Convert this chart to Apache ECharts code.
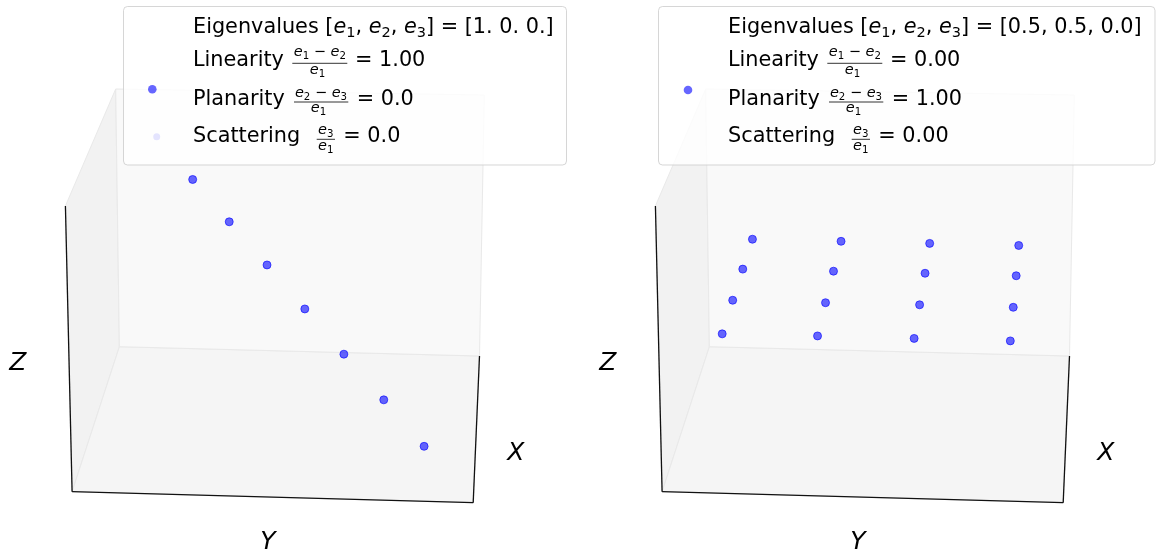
<!DOCTYPE html>
<html><head><meta charset="utf-8">
<script src="https://cdn.jsdelivr.net/npm/echarts@6/dist/echarts.min.js"></script>
<style>html,body{margin:0;padding:0;background:#fff}#c{width:1158px;height:558px}</style>
</head><body><div id="c"></div>
<script>
// ---- data (projected view units, 0–100 across each 3D box) ----
const linearityX = [30.4, 39.1, 48.1, 57.1, 66.4, 75.9, 85.5];
const linearityY = [78.2, 68.0, 57.6, 47.0, 36.1, 25.1, 13.9];
const planarityX = [23.2, 44.3, 65.4, 86.6, 20.9, 42.5, 64.3, 86.0, 18.5, 40.6, 63.0, 85.3, 16.0, 38.7, 61.7, 84.6];
const planarityY = [63.8, 63.3, 62.8, 62.3, 56.6, 56.1, 55.6, 55.0, 49.1, 48.5, 48.0, 47.4, 41.0, 40.5, 39.9, 39.3];
// 3D box panes (projected corners, same view units)
const backPane  = [[12.07, 100], [99.83, 98.55], [98.69, 35.66], [12.95, 37.9]];
const sidePane  = [[0.1, 71.81], [12.07, 100], [12.95, 37.9], [1.69, 2.96]];
const floorPane = [[12.95, 37.9], [98.69, 35.66], [97.19, 0.31], [1.69, 2.96]];
const axisEdges = [[[0.1, 71.81], [1.69, 2.96]], [[1.69, 2.96], [97.19, 0.31]], [[98.69, 35.66], [97.19, 0.31]]];
// legend texts
const eigenLeft = '[1. 0. 0.]';
const eigenRight = '[0.5, 0.5, 0.0]';
const linearityVals = ['1.00', '0.00'];
const planarityVals = ['0.0', '1.00'];
const scatteringVals = ['0.0', '0.00'];
const axisNames = ['X', 'Y', 'Z'];

const FONT = 'DejaVu Sans';
const panes = [sidePane, floorPane, backPane];
const paneColors = ['#f2f2f2', '#f5f5f5', '#f9f9f9'];
const POINT = 'rgba(0,0,255,0.6)';

function paneSeries(gi) {
  return {
    type: 'custom', xAxisIndex: gi, yAxisIndex: gi, silent: true, z: 1,
    data: panes.map((p, i) => [i]),
    renderItem: (params, api) => {
      const idx = api.value(0);
      return { type: 'polygon', shape: { points: panes[idx].map(c => api.coord(c)) },
        style: { fill: paneColors[idx], stroke: '#e9e9e9', lineWidth: 1 } };
    }
  };
}
function edgeSeries(gi) {
  return {
    type: 'custom', xAxisIndex: gi, yAxisIndex: gi, silent: true, z: 2,
    data: axisEdges.map((e, i) => [i]),
    renderItem: (params, api) => {
      const e = axisEdges[api.value(0)];
      const a = api.coord(e[0]), b = api.coord(e[1]);
      return { type: 'line', shape: { x1: a[0], y1: a[1], x2: b[0], y2: b[1] },
        style: { stroke: '#111', lineWidth: 1.3 } };
    }
  };
}
function scatterSeries(gi, xs, ys, name) {
  return {
    type: 'scatter', name, xAxisIndex: gi, yAxisIndex: gi, z: 3, symbolSize: 8,
    itemStyle: { color: POINT, opacity: 1, borderColor: POINT, borderWidth: 1 },
    data: xs.map((x, i) => [x, ys[i]])
  };
}

const rich = {
  n: { fontFamily: FONT, fontSize: 20.8, lineHeight: 26, verticalAlign: 'middle', fill: '#000' },
  i: { fontFamily: FONT, fontStyle: 'italic', fontSize: 20.8, lineHeight: 26, verticalAlign: 'middle', fill: '#000' },
  s: { fontFamily: FONT, fontSize: 14.5, lineHeight: 14, verticalAlign: 'bottom', fill: '#000' },
  fn: { fontFamily: FONT, fontSize: 14.5, lineHeight: 18, verticalAlign: 'middle', fill: '#000' },
  fi: { fontFamily: FONT, fontStyle: 'italic', fontSize: 14.5, lineHeight: 18, verticalAlign: 'middle', fill: '#000' },
  fs: { fontFamily: FONT, fontSize: 10.2, lineHeight: 10, verticalAlign: 'bottom', fill: '#000' }
};
function txt(x, y, text, align) {
  return { type: 'text', x, y, z: 101, silent: true,
    style: { text, rich, align: align || 'left', verticalAlign: 'middle', fill: '#000' } };
}
function bar(x1, x2, y) {
  return { type: 'line', z: 101, silent: true, shape: { x1, y1: y, x2, y2: y }, style: { stroke: '#000', lineWidth: 0.8 } };
}
function fracE(n) { return '{fi|e}{fs|' + n + '}'; }
function legend(dx, boxW, k, markers) {
  const els = [];
  els.push({ type: 'rect', z: 100, silent: true, shape: { x: 123.5 + dx, y: 6.5, width: boxW, height: 158.5, r: 4 },
    style: { fill: 'rgba(255,255,255,0.8)', stroke: 'rgba(204,204,204,0.8)', lineWidth: 1 } });
  const eig = k === 0 ? eigenLeft : eigenRight;
  els.push(txt(193 + dx, 28, '{n|Eigenvalues [}{i|e}{s|1}{n|, }{i|e}{s|2}{n|, }{i|e}{s|3}{n|] = ' + eig + '}'));
  // Linearity
  els.push(txt(193 + dx, 60.5, '{n|Linearity}'));
  els.push(txt(319.8 + dx, 52.7, fracE(1) + '{fn| − }' + fracE(2), 'center'));
  els.push(bar(292.3 + dx, 347.3 + dx, 63.3));
  els.push(txt(317.5 + dx, 70, fracE(1), 'center'));
  els.push(txt(355 + dx, 60.5, '{n|= ' + linearityVals[k] + '}'));
  // Planarity
  els.push(txt(193 + dx, 99.3, '{n|Planarity}'));
  els.push(txt(321 + dx, 93.3, fracE(2) + '{fn| − }' + fracE(3), 'center'));
  els.push(bar(294 + dx, 348.3 + dx, 102));
  els.push(txt(318.5 + dx, 108.5, fracE(1), 'center'));
  els.push(txt(356.7 + dx, 99.3, '{n|= ' + planarityVals[k] + '}'));
  // Scattering
  els.push(txt(193 + dx, 136.6, '{n|Scattering}'));
  els.push(txt(325.8 + dx, 130, fracE(3), 'center'));
  els.push(bar(316.7 + dx, 335 + dx, 139.3));
  els.push(txt(325.8 + dx, 146.7, fracE(1), 'center'));
  els.push(txt(343.3 + dx, 136.6, '{n|= ' + scatteringVals[k] + '}'));
  markers.forEach(m => els.push({ type: 'circle', z: 101, silent: true,
    shape: { cx: m[0] + dx, cy: m[1], r: m[2] }, style: { fill: m[3] } }));
  return els;
}
function axisLabels(dx) {
  const pos = [[515.7, 453], [268, 542], [17.7, 363]];
  return axisNames.map((n, i) => ({ type: 'text', x: pos[i][0] + dx, y: pos[i][1], z: 50, silent: true,
    style: { text: n, fontFamily: FONT, fontStyle: 'italic', fontSize: 25, fill: '#000', align: 'center', verticalAlign: 'middle' } }));
}

const grids = [{ left: 65, top: 89, width: 420, height: 415 }, { left: 655, top: 89, width: 420, height: 415 }];
const axisBase = { type: 'value', min: 0, max: 100, show: false };

const chart = echarts.init(document.getElementById('c'), null, { renderer: 'canvas' });
chart.setOption({
  animation: false,
  backgroundColor: '#fff',
  grid: grids,
  xAxis: [Object.assign({ gridIndex: 0 }, axisBase), Object.assign({ gridIndex: 1 }, axisBase)],
  yAxis: [Object.assign({ gridIndex: 0 }, axisBase), Object.assign({ gridIndex: 1 }, axisBase)],
  series: [
    paneSeries(0), edgeSeries(0), scatterSeries(0, linearityX, linearityY, 'Linearity'),
    paneSeries(1), edgeSeries(1), scatterSeries(1, planarityX, planarityY, 'Planarity')
  ],
  graphic: { elements: [].concat(
    axisLabels(0), axisLabels(590),
    legend(0, 443, 0, [[152.3, 89.3, 4.3, POINT], [156.7, 136.7, 3.5, 'rgba(0,0,255,0.1)']]),
    legend(535, 496.5, 1, [[153, 90, 4.3, POINT]])
  ) }
});
</script></body></html>
